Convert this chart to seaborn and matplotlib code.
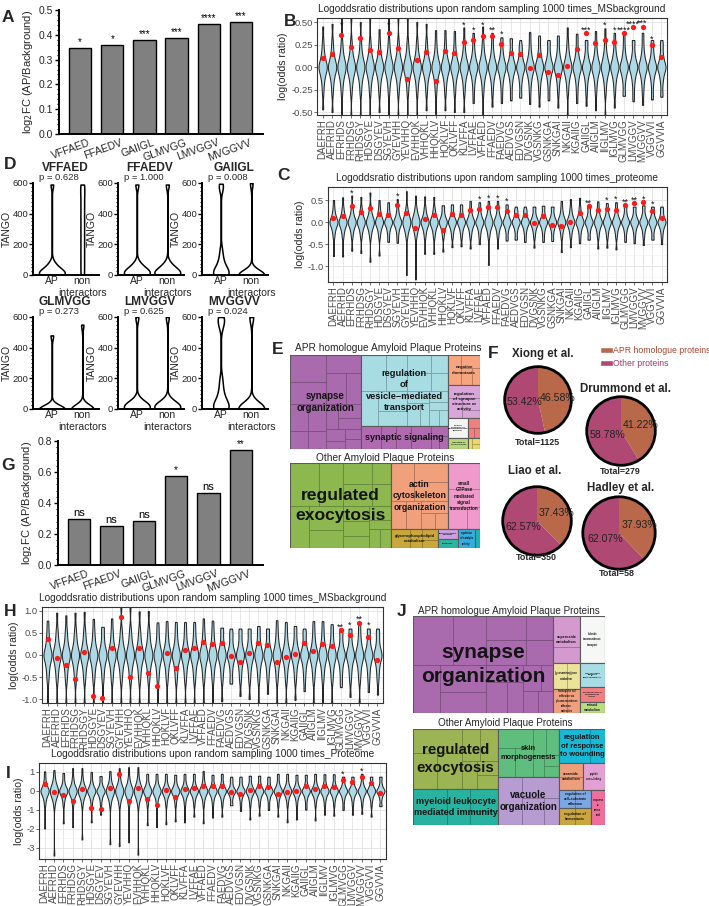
import numpy as np
import pandas as pd
import matplotlib
matplotlib.use('Agg')
import matplotlib.pyplot as plt
import seaborn as sns
from matplotlib.patches import Rectangle, Patch, Circle
from matplotlib.ticker import MultipleLocator, FixedLocator
import matplotlib.transforms as mtrans

# ----------------------------------------------------------------- data
PEPTIDES = ['DAEFRH', 'AEFRHD', 'EFRHDS', 'FRHDSG', 'RHDSGY', 'HDSGYE', 'DSGYEV',
            'SGYEVH', 'GYEVHH', 'YEVHHQ', 'EVHHQK', 'VHHQKL', 'HHQKLV', 'HQKLVF',
            'QKLVFF', 'KLVFFA', 'LVFFAE', 'VFFAED', 'FFAEDV', 'FAEDVG', 'AEDVGS',
            'EDVGSN', 'DVGSNK', 'VGSNKG', 'GSNKGA', 'SNKGAI', 'NKGAII', 'KGAIIG',
            'GAIIGL', 'AIIGLM', 'IIGLMV', 'IGLMVG', 'GLMVGG', 'LMVGGV', 'MVGGVV',
            'VGGVVI', 'GGVVIA']

APR6 = ['VFFAED', 'FFAEDV', 'GAIIGL', 'GLMVGG', 'LMVGGV', 'MVGGVV']
A_vals = [0.345, 0.357, 0.380, 0.387, 0.445, 0.450]
A_stars = ['*', '*', '***', '***', '****', '***']
G_vals = [0.297, 0.250, 0.284, 0.574, 0.465, 0.740]
G_stars = ['ns', 'ns', 'ns', '*', 'ns', '**']

# panel B (MS background)
B_dots = [0.10, 0.14, 0.36, 0.22, 0.32, 0.19, 0.17, 0.38, 0.21, -0.13, 0.08, 0.17, -0.16,
          0.18, 0.16, 0.28, 0.30, 0.34, 0.35, 0.26, 0.16, 0.15, -0.01, 0.13, -0.06, -0.09,
          0.01, 0.20, 0.38, 0.27, 0.30, 0.28, 0.38, 0.44, 0.45, 0.24, 0.11]
B_lo = [-0.47, -0.50, -0.56, -0.56, -0.56, -0.56, -0.50, -0.56, -0.56, -0.56, -0.56, -0.48,
        -0.52, -0.48, -0.50, -0.50, -0.40, -0.56, -0.44, -0.40, -0.37, -0.34, -0.41, -0.44,
        -0.37, -0.45, -0.56, -0.40, -0.43, -0.48, -0.56, -0.45, -0.32, -0.38, -0.42, -0.36, -0.33]
B_hi = [0.45, 0.48, 0.56, 0.56, 0.50, 0.56, 0.42, 0.56, 0.56, 0.56, 0.50, 0.48, 0.41, 0.41,
        0.40, 0.44, 0.38, 0.45, 0.38, 0.33, 0.32, 0.23, 0.39, 0.35, 0.28, 0.35, 0.44, 0.37,
        0.29, 0.40, 0.43, 0.38, 0.38, 0.29, 0.38, 0.28, 0.26]
B_stars = ['', '', '*', '', '', '', '', '*', '', '', '', '', '', '', '', '*', '*', '*', '**',
           '*', '', '', '', '', '', '', '', '', '***', '', '*', '*', '****', '****', '***', '*', '']
B_core = [-0.30, -0.22, -0.16, -0.12, -0.09, -0.06, -0.04, -0.02, 0.0, 0.0, 0.0,
          0.02, 0.04, 0.06, 0.09, 0.12, 0.16, 0.22, 0.30]

# panel C (proteome)
C_dots = [0.10, 0.14, 0.36, 0.22, 0.32, 0.19, 0.17, 0.38, 0.21, -0.13, 0.08, 0.17, -0.17,
          0.18, 0.16, 0.28, 0.30, 0.34, 0.35, 0.25, 0.16, 0.15, -0.02, 0.13, -0.07, -0.09,
          0.01, 0.20, 0.37, 0.27, 0.30, 0.28, 0.38, 0.43, 0.45, 0.24, 0.10]
C_lo = [-0.77, -0.78, -0.65, -0.70, -0.90, -0.76, -0.45, -0.47, -1.20, -1.30, -0.72, -0.72,
        -0.67, -0.57, -0.55, -0.60, -0.50, -0.97, -0.60, -0.42, -0.40, -0.45, -0.58, -0.45,
        -0.43, -0.68, -0.57, -0.48, -0.40, -0.60, -0.58, -0.62, -0.45, -0.48, -0.52, -0.40, -0.50]
C_hi = [0.50, 0.56, 0.60, 0.57, 0.67, 0.50, 0.45, 0.52, 0.70, 0.60, 0.58, 0.57, 0.38, 0.40,
        0.40, 0.48, 0.45, 0.48, 0.48, 0.40, 0.27, 0.27, 0.35, 0.37, 0.35, 0.48, 0.52, 0.55,
        0.35, 0.47, 0.43, 0.45, 0.37, 0.35, 0.38, 0.35, 0.30]
C_stars = ['', '', '*', '', '', '', '', '*', '', '', '', '', '', '', '', '', '*', '*', '*',
           '*', '', '', '', '', '', '', '', '', '**', '', '*', '*', '**', '**', '*', '*', '']
C_core = [-0.35, -0.25, -0.18, -0.13, -0.09, -0.06, -0.03, 0.0, 0.0, 0.0,
          0.03, 0.06, 0.09, 0.13, 0.18, 0.25, 0.35]

# panel H (MS background)
H_dots = [0.37, -0.06, -0.23, -0.55, 0.07, -0.92, -0.97, 0.15, 0.87, -0.50, 0.17, -0.41,
          -0.71, 0.05, -0.30, 0.11, 0.17, 0.29, 0.25, 0.28, -0.03, -0.16, 0.05, 0.28, 0.23,
          -0.15, -0.04, 0.02, 0.28, 0.08, 0.26, 0.20, 0.57, 0.46, 0.72, 0.42, -0.11]
H_lo = [-1.12, -1.12, -1.12, -1.12, -1.12, -1.12, -1.12, -1.12, -1.12, -1.12, -1.12, -1.12,
        -1.12, -1.12, -1.12, -1.12, -1.12, -1.12, -1.12, -1.05, -0.65, -0.93, -1.00, -1.12,
        -0.88, -1.12, -1.12, -1.02, -0.82, -1.12, -1.12, -1.12, -0.73, -0.95, -1.12, -0.84, -0.90]
H_hi = [0.78, 0.96, 0.90, 0.96, 0.98, 0.82, 0.64, 0.83, 1.12, 1.12, 0.99, 1.00, 0.74, 0.77,
        0.75, 0.75, 0.75, 0.83, 0.78, 0.62, 0.50, 0.57, 0.60, 0.66, 0.60, 0.79, 0.75, 0.66,
        0.53, 0.77, 0.77, 0.70, 0.55, 0.60, 0.74, 0.60, 0.53]
H_stars = [''] * 32 + ['**', '*', '**', '*', '']
H_core = [-0.60, -0.45, -0.33, -0.24, -0.16, -0.10, -0.05, 0.0, 0.0, 0.0,
          0.05, 0.10, 0.16, 0.24, 0.33, 0.45, 0.60]

# panel I (proteome)
I_dots = [0.37, -0.05, -0.23, -0.55, 0.08, -0.92, -0.97, 0.15, 0.87, -0.52, 0.17, -0.42,
          -0.72, 0.05, -0.30, 0.11, 0.17, 0.28, 0.25, 0.28, -0.03, -0.16, 0.05, 0.28, 0.22,
          -0.15, -0.04, 0.02, 0.28, 0.08, 0.26, 0.20, 0.57, 0.46, 0.72, 0.42, -0.12]
I_lo = [-1.97, -3.40, -1.70, -1.90, -2.55, -1.65, -1.25, -2.80, -2.90, -2.70, -3.35, -1.80,
        -1.90, -1.75, -1.60, -1.65, -1.35, -1.70, -1.40, -1.35, -0.72, -1.05, -1.50, -1.30,
        -1.00, -1.35, -1.65, -1.50, -0.98, -1.55, -1.25, -1.30, -1.00, -1.25, -1.20, -1.35, -0.80]
I_hi = [1.03, 1.10, 0.95, 1.20, 1.20, 1.00, 0.78, 1.05, 1.20, 1.25, 1.25, 0.90, 0.90, 0.90,
        0.85, 0.90, 0.90, 1.05, 0.85, 0.90, 0.62, 0.65, 0.80, 0.80, 0.65, 0.90, 0.90, 0.85,
        0.85, 0.90, 0.88, 0.88, 0.75, 0.72, 0.90, 0.75, 0.72]
I_stars = [''] * 32 + ['*', '', '*', '', '']
I_core = [-0.75, -0.50, -0.35, -0.25, -0.16, -0.10, -0.05, 0.0, 0.0, 0.0,
          0.05, 0.10, 0.16, 0.25, 0.35, 0.50, 0.75]

# panel D (TANGO scores)
D_titles = ['VFFAED', 'FFAEDV', 'GAIIGL', 'GLMVGG', 'LMVGGV', 'MVGGVV']
D_pvals = ['p = 0.628', 'p = 1.000', 'p = 0.008', 'p = 0.273', 'p = 0.625', 'p = 0.024']
D_AP = [
    [0, 0, 0, 0, 5, 10, 15, 20, 25, 35, 45, 60, 80, 590],
    [0, 0, 0, 5, 10, 15, 20, 30, 40, 55, 75, 590],
    [0, 0, 0, 0, 5, 10, 15, 20, 30, 40, 50, 60, 80, 100, 130, 170, 560, 580, 595],
    [0, 0, 0, 0, 0, 0, 0, 0, 0, 0, 480],
    [0, 0, 0, 5, 10, 15, 20, 30, 40, 55, 600],
    [0, 0, 0, 5, 10, 20, 30, 40, 60, 80, 110, 150, 200, 540, 570, 590, 600],
]
D_NON = [
    [0, 75, 150, 225, 300, 375, 450, 525, 590],
    [0, 0, 0, 5, 10, 15, 20, 30, 40, 55, 75, 590],
    [0, 0, 0, 0, 0, 0, 0, 0, 5, 10, 600],
    [0, 0, 0, 0, 0, 0, 0, 0, 0, 0, 550],
    [0, 0, 0, 5, 10, 15, 20, 30, 40, 55, 600],
    [0, 0, 0, 0, 5, 10, 20, 600],
]

# panel F (pies)
F_studies = ['Xiong et al.', 'Drummond et al.', 'Liao et al.', 'Hadley et al.']
F_apr = [46.58, 41.22, 37.43, 37.93]
F_other = [53.42, 58.78, 62.57, 62.07]
F_totals = ['Total=1125', 'Total=279', 'Total=350', 'Total=58']

# treemaps: (label, area, colour, fontsize, texture sub-sizes)
def leaf(label, size, color, fs, sub=None):
    return dict(label=label, size=size, color=color, fs=fs, sub=sub or [])

SUB_BIG = [6, 5, 4, 4, 3, 3, 3, 2, 2, 2, 2, 1.5, 1.5, 1, 1, 1]
SUB_MED = [4, 3, 3, 2, 2, 1.5, 1, 1]
SUB_SM = [3, 2, 1.5, 1]

E_top = [
    leaf('synapse\norganization', 6674, '#A96BAE', 7.0, SUB_BIG),
    [leaf('regulation\nof\nvesicle\u2212mediated\ntransport', 6177, '#A8DCE3', 6.7, SUB_BIG),
     leaf('synaptic signaling', 2001, '#B06AB0', 6.5, SUB_MED)],
    [leaf('negative\nchemotaxis', 960, '#F6A57F', 3.2, SUB_SM),
     leaf('regulation\nof synapse\nstructure or\nactivity', 1056, '#D9A6D9', 3.2, SUB_SM),
     [leaf('cell\u2212cell\nadhesion via\nplasma\u2212membrane\nadhesion', 400, '#F4F4F4', 1.6),
      leaf('', 240, '#F08080', 2, [2, 1, 1])],
     [leaf('regulation of\nhormone levels', 224, '#B5D77A', 1.5), leaf('', 128, '#E8DA6A', 2, [1, 1, 1])]],
]
E_bot = [
    leaf('regulated\nexocytosis', 8585, '#8DB850', 12.6, SUB_BIG),
    [[leaf('actin\ncytoskeleton\norganization', 3762, '#F0A07A', 6.3, SUB_MED),
      leaf('small\nGTPase\nmediated\nsignal\ntransduction', 2112, '#F09ACB', 3.3, SUB_SM)],
     [leaf('glycerophospholipid\ncatabolism', 893, '#C9A73A', 3.0, SUB_SM),
      [leaf('phosphatidylinositol\nmetabolism', 200, '#C8A0E0', 1.4),
       leaf('autophagy', 180, '#2DB5A0', 1.6)],
      leaf('regulation\nof catalytic\nactivity', 323, '#33AEE0', 1.8),
      leaf('', 95, '#1CB5B5', 2)]],
]
J_top = [
    leaf('synapse\norganization', 13580, '#A96BAE', 15, SUB_BIG),
    [leaf('superoxide\nmetabolism', 1269, '#D49AD0', 2.7, [2, 1]),
     leaf('glycosaminoglycan\ncatabolism', 702, '#ECE39A', 1.8, [1, 1]),
     leaf('homophilic cell\nadhesion via\nplasma membrane\nadhesion\nmolecules', 648, '#F0A07E', 1.8, [1, 1])],
    [leaf('chloride\ntransmembrane\ntransport', 1175, '#F5F8F5', 1.8),
     leaf('trans\u2212synaptic\nsignaling\nby\nendocannabinoid', 600, '#A9DDE6', 1.6),
     leaf('positive regulation of\nmonoatomic ion\ntransport', 375, '#F27F7F', 1.4),
     leaf('retinoid\nmetabolism', 275, '#B8DC84', 2.2)],
]
J_bot = [
    [leaf('regulated\nexocytosis', 5100, '#9CB453', 10.8, SUB_MED),
     leaf('myeloid leukocyte\nmediated immunity', 3060, '#27B3A0', 6.6, SUB_SM)],
    [leaf('skin\nmorphogenesis', 2928, '#5FBE7E', 5.4, SUB_MED),
     leaf('vacuole\norganization', 2928, '#B79CD2', 7.0, SUB_SM)],
    [leaf('regulation\nof response\nto wounding', 1564, '#18B9D6', 5.4, [2, 1]),
     [leaf('ceramide\ncatabolism', 648, '#EE9E7B', 2.6, [1, 1]),
      leaf('peptide\ncross\u2212linking', 594, '#E3A0D5', 1.8)],
     [[leaf('regulation of\ncell\u2212substrate\nadhesion', 576, '#7AA8E5', 2.4, [1, 1]),
       leaf('regulation of\nhemostasis', 544, '#CAA63C', 2.6, [1, 1])],
      leaf('response\nto\namino\nacid', 490, '#F06E9B', 1.8)]],
]

# ----------------------------------------------------------------- setup
sns.set_theme(style='white')
plt.rcParams['font.family'] = ['Liberation Sans', 'DejaVu Sans']
plt.rcParams['axes.unicode_minus'] = False

W, H = 709, 906
fig = plt.figure(figsize=(W / 100, H / 100), dpi=100)


def add_ax(x0, y0, x1, y1):
    return fig.add_axes([x0 / W, 1 - y1 / H, (x1 - x0) / W, (y1 - y0) / H])


def ftext(x, y, s, **kw):
    return fig.text(x / W, 1 - y / H, s, **kw)


# ----------------------------------------------------------------- ggplot-like violin panels
def gg_panel(ax, lo, hi, dots, stars, core, ylim, yticks, ytl, title):
    rows = []
    for p, l, h in zip(PEPTIDES, lo, hi):
        for v in [l] + core + [h]:
            rows.append((p, v))
    df = pd.DataFrame(rows, columns=['pep', 'val'])
    sns.violinplot(data=df, x='pep', y='val', order=PEPTIDES, color='#ADD8E6',
                   saturation=1, linecolor='#262626', linewidth=0.75, inner=None,
                   cut=0, density_norm='width', width=0.88, bw_adjust=0.5, ax=ax)
    sns.stripplot(x=PEPTIDES, y=dots, color='#FF1A1A', size=3.8, jitter=False,
                  linewidth=0, ax=ax, zorder=5)
    rng = ylim[1] - ylim[0]
    for i, s in enumerate(stars):
        if s:
            yv = max(dots[i], min(hi[i], ylim[1] - 0.1 * rng)) + 0.03 * rng
            ax.text(i, yv, s, ha='center', va='center', fontsize=6.5, color='#111111')
    ax.set_xlim(-0.6, len(PEPTIDES) - 0.4)
    ax.set_ylim(ylim)
    ax.yaxis.set_major_locator(FixedLocator(yticks))
    ax.set_yticklabels(ytl)
    step = yticks[1] - yticks[0]
    ax.yaxis.set_minor_locator(MultipleLocator(step / 2))
    ax.set_axisbelow(True)
    ax.grid(which='major', color='#E3E3E3', linewidth=0.6)
    ax.grid(which='minor', axis='y', color='#F1F1F1', linewidth=0.4)
    for sp in ax.spines.values():
        sp.set_visible(True)
        sp.set_color('#333333')
        sp.set_linewidth(0.8)
    ax.tick_params(which='major', length=2, width=0.5, color='#333333',
                   labelsize=6.8, labelcolor='#4D4D4D', pad=1, bottom=True, left=True)
    ax.tick_params(which='minor', length=0)
    ax.tick_params(axis='x', labelrotation=90, labelsize=7)
    ax.set_xlabel('')
    ax.set_ylabel('log(odds ratio)', fontsize=7.6, labelpad=2)
    ax.set_title(title, fontsize=7.3, pad=4)


axB = add_ax(317, 18, 667, 115)
gg_panel(axB, B_lo, B_hi, B_dots, B_stars, B_core, (-0.533, 0.545),
         [-0.5, -0.25, 0, 0.25, 0.5], ['-0.50', '-0.25', '0.00', '0.25', '0.50'],
         'Logoddsratio distributions upon random sampling 1000 times_MSbackground')
axC = add_ax(328, 187, 667, 282)
gg_panel(axC, C_lo, C_hi, C_dots, C_stars, C_core, (-1.36, 0.795),
         [-1.0, -0.5, 0, 0.5], ['-1.0', '-0.5', '0.0', '0.5'],
         'Logoddsratio distributions upon random sampling 1000 times_proteome')
axH = add_ax(42, 607, 383, 703)
gg_panel(axH, H_lo, H_hi, H_dots, H_stars, H_core, (-1.09, 1.09),
         [-1.0, -0.5, 0, 0.5, 1.0], ['-1.0', '-0.5', '0.0', '0.5', '1.0'],
         'Logoddsratio distributions upon random sampling 1000 times_MSbackground')
axI = add_ax(39, 763, 386, 859)
gg_panel(axI, I_lo, I_hi, I_dots, I_stars, I_core, (-3.58, 1.47),
         [-3, -2, -1, 0, 1], ['-3', '-2', '-1', '0', '1'],
         'Logoddsratio distributions upon random sampling 1000 times_Proteome')


# ----------------------------------------------------------------- GraphPad-like bar panels
def prism_axes(ax):
    for sp in ['top', 'right']:
        ax.spines[sp].set_visible(False)
    for sp in ['left', 'bottom']:
        ax.spines[sp].set_visible(True)
        ax.spines[sp].set_color('black')
        ax.spines[sp].set_linewidth(1.4)
    ax.tick_params(axis='y', which='major', length=3, width=1, color='black',
                   labelsize=7.5, pad=1, left=True)
    ax.tick_params(axis='y', which='minor', length=1.5, width=0.8, color='black', left=True)
    ax.tick_params(axis='x', length=0, labelsize=7.5, pad=1)


def bar_panel(ax, vals, labs, ylim, major, minor):
    sns.barplot(x=APR6, y=vals, color='#808080', saturation=1, edgecolor='black',
                linewidth=1.0, width=0.69, ax=ax)
    for i, s in enumerate(labs):
        ax.text(i, vals[i] + 0.004 * (ylim[1] / 0.5), s, ha='center', va='bottom',
                fontsize=8 if s == 'ns' else 7, color='black')
    ax.set_xlim(-0.66, 5.69)
    ax.set_ylim(ylim)
    ax.yaxis.set_major_locator(MultipleLocator(major))
    ax.yaxis.set_minor_locator(MultipleLocator(minor))
    ax.yaxis.set_major_formatter(matplotlib.ticker.FormatStrFormatter('%.1f'))
    prism_axes(ax)
    ax.set_xlabel('')
    ax.set_ylabel('log$_2$FC (AP/Background)', fontsize=8, labelpad=3)
    plt.setp(ax.get_xticklabels(), rotation=20, ha='right', rotation_mode='anchor')
    off = mtrans.ScaledTranslation(0.08, -0.02, fig.dpi_scale_trans)
    for lab in ax.get_xticklabels():
        lab.set_transform(lab.get_transform() + off)


axA = add_ax(59, 10, 263, 134)
bar_panel(axA, A_vals, A_stars, (0, 0.5), 0.1, 0.02)
axG = add_ax(58, 441, 263, 565)
bar_panel(axG, G_vals, G_stars, (0, 0.8), 0.2, 0.04)

# ----------------------------------------------------------------- D: TANGO violins
D_left = [33, 118, 202]
D_rows = [(183, 275), (317, 409)]
for k in range(6):
    r, c = divmod(k, 3)
    x0 = D_left[c]
    y0, y1 = D_rows[r]
    ax = add_ax(x0, y0, x0 + 66, y1)
    dfD = pd.DataFrame({'grp': ['AP'] * len(D_AP[k]) + ['non'] * len(D_NON[k]),
                        'val': D_AP[k] + D_NON[k]})
    sns.violinplot(data=dfD, x='grp', y='val', order=['AP', 'non'], color='white',
                   saturation=1, linecolor='black', linewidth=1.1, inner=None, cut=0,
                   density_norm='area', common_norm=True, bw_adjust=0.3, width=0.85, ax=ax)
    ax.set_xlim(-0.62, 1.55)
    ax.set_ylim(0, 600)
    ax.yaxis.set_major_locator(MultipleLocator(200))
    ax.yaxis.set_minor_locator(MultipleLocator(25))
    prism_axes(ax)
    ax.tick_params(axis='y', labelsize=6.8, pad=0.5)
    ax.set_xticks([0, 1])
    ax.set_xticklabels(['AP', 'non\ninteractors'], fontsize=7.5)
    ax.set_xlabel('')
    ax.set_ylabel('TANGO', fontsize=7.5, labelpad=0)
    ftext(x0 + 32, y0 - 15, D_titles[k], ha='center', va='center', fontsize=8.6,
          fontweight='bold')
    ftext(x0 + 6, y0 - 5, D_pvals[k], ha='left', va='center', fontsize=6.8)


# ----------------------------------------------------------------- treemaps
def total(node):
    if isinstance(node, dict):
        return node['size']
    return sum(total(c) for c in node)


def darker(col, f=0.72):
    rgb = np.array(matplotlib.colors.to_rgb(col))
    return tuple(rgb * f)


def texture(ax, sizes, x, y, w, h, ec):
    if len(sizes) <= 1:
        ax.add_patch(Rectangle((x, y), w, h, fill=False, edgecolor=ec, linewidth=0.45))
        return
    t = sum(sizes)
    cum = np.cumsum(sizes)[:-1]
    k = int(np.argmin(np.abs(cum - t / 2))) + 1
    a, b = sizes[:k], sizes[k:]
    fa = sum(a) / t
    if w >= h:
        texture(ax, a, x, y, w * fa, h, ec)
        texture(ax, b, x + w * fa, y, w * (1 - fa), h, ec)
    else:
        texture(ax, a, x, y, w, h * fa, ec)
        texture(ax, b, x, y + h * fa, w, h * (1 - fa), ec)


def draw_tree(ax, node, x, y, w, h, depth):
    if isinstance(node, dict):
        ax.add_patch(Rectangle((x, y), w, h, facecolor=node['color'], edgecolor='none'))
        if node['sub']:
            texture(ax, node['sub'], x, y, w, h, darker(node['color']))
        ax.add_patch(Rectangle((x, y), w, h, fill=False, edgecolor='#5A5A5A', linewidth=0.8))
        if node['label']:
            ax.text(x + w / 2, y + h / 2, node['label'], ha='center', va='center',
                    fontsize=node['fs'], fontweight='bold', color='#141414',
                    linespacing=1.35)
        return
    t = total(node)
    pos = 0.0
    for c in node:
        f = total(c) / t
        if depth % 2 == 0:
            draw_tree(ax, c, x + pos * w, y, f * w, h, depth + 1)
        else:
            draw_tree(ax, c, x, y + pos * h, w, f * h, depth + 1)
        pos += f


def treemap(box, tree):
    x0, y0, x1, y1 = box
    ax = add_ax(x0, y0, x1, y1)
    draw_tree(ax, tree, 0, 0, x1 - x0, y1 - y0, 0)
    ax.set_xlim(0, x1 - x0)
    ax.set_ylim(y1 - y0, 0)
    ax.axis('off')
    return ax


treemap((290, 355, 480, 449), E_top)
treemap((290, 463, 480, 548), E_bot)
treemap((413, 616, 605, 713), J_top)
treemap((413, 729, 605, 825), J_bot)
ftext(388, 348, 'APR homologue Amyloid Plaque Proteins', ha='center', va='center', fontsize=7.3)
ftext(385, 458, 'Other Amyloid Plaque Proteins', ha='center', va='center', fontsize=7.3)
ftext(509, 611, 'APR homologue Amyloid Plaque Proteins', ha='center', va='center', fontsize=7.1)
ftext(505, 723, 'Other Amyloid Plaque Proteins', ha='center', va='center', fontsize=7.1)

# ----------------------------------------------------------------- F: pies
PIE_COLS = ['#B9694A', '#B04874']
pie_geo = [(538, 400, 35), (621, 431, 36), (537, 521, 36), (619, 533, 38)]
title_pos = [(543, 354), (625, 389), (535, 471), (621, 488)]
total_pos = [(537, 443), (620, 471), (536, 558), (617, 574)]
for k in range(4):
    cx, cy, r = pie_geo[k]
    ax = add_ax(cx - r, cy - r, cx + r, cy + r)
    wedges, _, autotexts = ax.pie([F_apr[k], F_other[k]], colors=PIE_COLS, startangle=90,
                                  counterclock=False, autopct='%.2f%%', pctdistance=0.5,
                                  radius=1, wedgeprops=dict(linewidth=0),
                                  textprops=dict(fontsize=7.6, color='#222222'))
    for wdg, txt, dist in zip(wedges, autotexts, [0.6, 0.42]):
        ang = np.deg2rad((wdg.theta1 + wdg.theta2) / 2)
        txt.set_position((dist * np.cos(ang), dist * np.sin(ang)))
    ax.add_patch(Circle((0, 0), 1, fill=False, edgecolor='black', linewidth=2))
    ax.set_xlim(-1.05, 1.05)
    ax.set_ylim(-1.05, 1.05)
    ax.set_aspect('equal')
    ax.axis('off')
    ftext(*title_pos[k], F_studies[k], ha='center', va='center', fontsize=8.3, fontweight='bold')
    ftext(*total_pos[k], F_totals[k], ha='center', va='center', fontsize=6.4, fontweight='bold')

leg = fig.legend(handles=[Patch(facecolor=PIE_COLS[0]), Patch(facecolor=PIE_COLS[1])],
                 labels=['APR homologue proteins', 'Other proteins'], loc='upper left',
                 bbox_to_anchor=(600 / W, 1 - 346 / H), frameon=False, fontsize=6.3,
                 handlelength=1.5, handleheight=0.8, handletextpad=0.0, labelspacing=0.45,
                 borderaxespad=0, borderpad=0)
leg.get_texts()[0].set_color('#A8472E')
leg.get_texts()[1].set_color('#9E3A72')

# ----------------------------------------------------------------- panel letters
for s, x, y in [('A', 8, 17), ('B', 290, 21), ('C', 283, 176), ('D', 10, 165),
                ('E', 278, 350), ('F', 493, 354), ('G', 8, 466), ('H', 10, 611),
                ('I', 8, 773), ('J', 402, 611)]:
    ftext(x, y, s, ha='center', va='center', fontsize=12.5, fontweight='bold')

fig.savefig('out.png', dpi=100)
